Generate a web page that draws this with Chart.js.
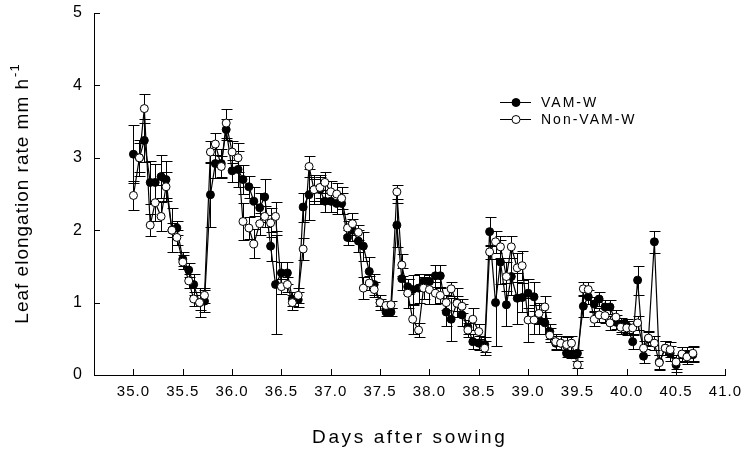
<!DOCTYPE html>
<html>
<head>
<meta charset="utf-8">
<title>Leaf elongation rate</title>
<script src="https://cdn.jsdelivr.net/npm/chart.js@4.4.1/dist/chart.umd.min.js"></script>
<style>
  html, body { margin: 0; padding: 0; background: #fff; }
  canvas { display: block; }
</style>
</head>
<body>
<canvas id="chartPlace" width="748" height="452"></canvas>
<script>
// sampling times (days after sowing), one reading every 80 min
var days = [
  35.00,35.06,35.11,35.17,35.22,35.28,35.33,35.39,35.44,35.50,35.56,35.61,35.67,35.72,35.78,35.83,35.89,35.94,
  36.00,36.06,36.11,36.17,36.22,36.28,36.33,36.39,36.44,36.50,36.56,36.61,36.67,36.72,36.78,36.83,36.89,36.94,
  37.00,37.06,37.11,37.17,37.22,37.28,37.33,37.39,37.44,37.50,37.56,37.61,37.67,37.72,37.78,37.83,37.89,37.94,
  38.00,38.06,38.11,38.17,38.22,38.28,38.33,38.39,38.44,38.50,38.56,38.61,38.67,38.72,38.78,38.83,38.89,38.94,
  39.00,39.06,39.11,39.17,39.22,39.28,39.33,39.39,39.44,39.50,39.56,39.61,39.67,39.72,39.78,39.83,39.89,39.94,
  40.00,40.06,40.11,40.17,40.22,40.28,40.33,40.39,40.44,40.50,40.56,40.61,40.67
];

// VAM-W (filled circles)
var vamW = [
  3.05,3.00,3.24,2.66,2.66,2.74,2.70,2.00,2.03,1.60,1.45,1.25,1.00,1.02,2.49,2.92,2.92,3.39,
  2.82,2.84,2.70,2.60,2.40,2.31,2.46,1.78,1.25,1.41,1.41,1.05,1.04,2.32,2.49,2.56,2.56,2.40,
  2.40,2.37,2.37,1.90,2.00,1.85,1.78,1.43,1.25,1.00,0.87,0.87,2.07,1.33,1.22,1.18,1.20,1.29,
  1.29,1.37,1.37,0.87,0.77,1.00,0.83,0.66,0.46,0.44,0.42,1.98,1.00,1.56,0.97,1.36,1.06,1.07,
  1.13,1.08,0.76,0.72,0.60,0.44,0.44,0.30,0.28,0.30,0.95,1.08,0.98,1.05,0.94,0.94,0.73,0.69,
  0.68,0.46,1.31,0.26,0.50,1.84,0.18,0.37,0.30,0.14,0.28,0.28,0.28
];
var vamErr = [
  0.40,0.25,0.30,0.30,0.25,0.30,0.25,0.30,0.10,0.10,0.10,0.15,0.20,0.15,0.45,0.20,0.20,0.15,
  0.15,0.25,0.20,0.15,0.20,0.20,0.25,0.20,0.68,0.15,0.15,0.10,0.10,0.20,0.35,0.20,0.20,0.15,
  0.15,0.15,0.15,0.10,0.15,0.15,0.20,0.20,0.15,0.10,0.05,0.05,0.30,0.15,0.10,0.20,0.20,0.10,
  0.10,0.15,0.15,0.20,0.30,0.20,0.15,0.10,0.10,0.10,0.10,0.20,0.60,0.30,0.30,0.25,0.35,0.20,
  0.20,0.20,0.20,0.15,0.10,0.10,0.10,0.05,0.05,0.05,0.15,0.10,0.10,0.10,0.10,0.10,0.10,0.10,
  0.10,0.10,0.20,0.10,0.10,0.15,0.10,0.10,0.10,0.10,0.10,0.10,0.10
];

// Non-VAM-W (open circles)
var nonVamW = [
  2.48,3.00,3.68,2.07,2.38,2.19,2.60,2.00,1.90,1.56,1.30,1.05,1.00,1.10,3.08,3.19,2.88,3.48,
  3.08,3.00,2.12,2.03,1.81,2.09,2.19,2.10,2.19,1.22,1.25,1.00,1.10,1.74,2.88,2.56,2.59,2.66,
  2.53,2.50,2.44,2.03,2.09,1.97,1.20,1.27,1.18,1.00,0.96,0.97,2.53,1.52,1.13,0.77,0.62,1.20,
  1.18,1.13,1.10,1.00,1.19,0.99,0.95,0.62,0.77,0.60,0.37,1.70,1.84,1.77,1.36,1.77,1.48,1.51,
  0.76,0.76,0.85,0.94,0.55,0.46,0.44,0.42,0.44,0.14,1.19,1.18,0.77,0.83,0.82,0.72,0.80,0.66,
  0.65,0.65,0.72,0.37,0.51,0.44,0.17,0.37,0.35,0.18,0.29,0.25,0.30
];
var nonVamErr = [
  0.20,0.20,0.20,0.15,0.25,0.20,0.20,0.10,0.10,0.10,0.10,0.10,0.10,0.10,0.15,0.15,0.15,0.20,
  0.15,0.20,0.25,0.15,0.20,0.15,0.15,0.20,0.20,0.10,0.10,0.10,0.10,0.15,0.15,0.15,0.15,0.15,
  0.15,0.15,0.15,0.10,0.15,0.10,0.15,0.10,0.10,0.05,0.05,0.05,0.10,0.15,0.20,0.20,0.10,0.15,
  0.20,0.15,0.10,0.10,0.10,0.10,0.10,0.10,0.15,0.10,0.10,0.10,0.15,0.15,0.20,0.15,0.20,0.20,
  0.30,0.20,0.15,0.15,0.10,0.10,0.10,0.10,0.10,0.05,0.10,0.10,0.10,0.10,0.10,0.10,0.10,0.10,
  0.10,0.10,0.10,0.10,0.10,0.10,0.10,0.10,0.10,0.10,0.10,0.10,0.10
];

var seriesNames = ["VAM-W", "Non-VAM-W"];
var xTitle = "Days after sowing";
var yTitle = "Leaf elongation rate mm h";
var yTitleSup = "-1";

function toPoints(arr) {
  var pts = [];
  for (var i = 0; i < days.length; i++) {
    pts.push({x: days[i], y: arr[i]});
  }
  return pts;
}

/* error bars, drawn under the markers */
const errorBars = {
  id: 'errorBars',
  beforeDatasetsDraw(chart) {
    const ctx = chart.ctx;
    const xs = chart.scales.x, ys = chart.scales.y;
    ctx.save();
    ctx.strokeStyle = '#000';
    ctx.lineWidth = 1;
    chart.data.datasets.forEach(function (ds) {
      ds.data.forEach(function (p, i) {
        var e = ds.errors[i];
        var px = Math.round(xs.getPixelForValue(p.x)) + 0.5;
        var top = Math.round(ys.getPixelForValue(p.y + e)) + 0.5;
        var bot = Math.round(ys.getPixelForValue(Math.max(0, p.y - e))) + 0.5;
        ctx.beginPath();
        ctx.moveTo(px, top); ctx.lineTo(px, bot);
        ctx.moveTo(px - 5, top); ctx.lineTo(px + 6, top);
        ctx.moveTo(px - 5, bot); ctx.lineTo(px + 6, bot);
        ctx.stroke();
      });
    });
    ctx.restore();
  }
};

/* inward ticks, axis titles and the legend box */
const decorations = {
  id: 'decorations',
  beforeDraw(chart) {
    chart.ctx.letterSpacing = '1px';
  },
  afterDraw(chart) {
    const ctx = chart.ctx;
    const xs = chart.scales.x, ys = chart.scales.y;
    const area = chart.chartArea;
    ctx.save();
    ctx.strokeStyle = '#000';
    ctx.lineWidth = 1;
    ctx.beginPath();
    xs.ticks.forEach(function (t) {
      var px = Math.round(xs.getPixelForValue(t.value)) + 0.5;
      ctx.moveTo(px, area.bottom); ctx.lineTo(px, area.bottom - 6);
    });
    ys.ticks.forEach(function (t) {
      var py = Math.round(ys.getPixelForValue(t.value)) + 0.5;
      ctx.moveTo(area.left, py); ctx.lineTo(area.left + 6, py);
    });
    ctx.stroke();

    ctx.fillStyle = '#000';
    // x title
    ctx.letterSpacing = '2.6px';
    ctx.font = '19px "Liberation Sans", Arial, sans-serif';
    ctx.textAlign = 'center';
    ctx.textBaseline = 'middle';
    ctx.fillText(xTitle, (area.left + area.right) / 2, 438);

    // y title with superscript
    ctx.letterSpacing = '1px';
    ctx.translate(23, (area.top + area.bottom) / 2);
    ctx.rotate(-Math.PI / 2);
    ctx.font = '19px "Liberation Sans", Arial, sans-serif';
    var w1 = ctx.measureText(yTitle).width;
    ctx.font = '13px "Liberation Sans", Arial, sans-serif';
    var w2 = ctx.measureText(yTitleSup).width;
    var start = -(w1 + w2) / 2;
    ctx.textAlign = 'left';
    ctx.font = '19px "Liberation Sans", Arial, sans-serif';
    ctx.fillText(yTitle, start, 0);
    ctx.font = '13px "Liberation Sans", Arial, sans-serif';
    ctx.fillText(yTitleSup, start + w1 + 1, -8);
    ctx.setTransform(1, 0, 0, 1, 0, 0);

    // legend
    ctx.letterSpacing = '2px';
    ctx.font = '14px "Liberation Sans", Arial, sans-serif';
    ctx.textAlign = 'left';
    ctx.textBaseline = 'middle';
    var rows = [102, 119];
    var fills = ['#000', '#fff'];
    for (var r = 0; r < 2; r++) {
      ctx.beginPath();
      ctx.moveTo(500, rows[r] + 0.5); ctx.lineTo(531, rows[r] + 0.5);
      ctx.stroke();
      ctx.beginPath();
      ctx.arc(516, rows[r] + 0.5, 4, 0, Math.PI * 2);
      ctx.fillStyle = fills[r];
      ctx.fill();
      ctx.stroke();
      ctx.fillStyle = '#000';
      ctx.fillText(seriesNames[r], 541, rows[r] + 1);
    }
    ctx.restore();
  }
};

var chartPlace = document.getElementById('chartPlace').getContext('2d');
var chartLer = new Chart(chartPlace, {
  type: 'line',
  data: {
    datasets: [
      {
        label: seriesNames[1],
        data: toPoints(nonVamW),
        errors: nonVamErr,
        borderColor: '#000',
        borderWidth: 1.2,
        pointRadius: 4,
        pointBorderWidth: 1,
        pointBorderColor: '#000',
        pointBackgroundColor: '#fff',
        tension: 0
      },
      {
        label: seriesNames[0],
        data: toPoints(vamW),
        errors: vamErr,
        borderColor: '#000',
        borderWidth: 1.2,
        pointRadius: 4,
        pointBorderWidth: 1,
        pointBorderColor: '#000',
        pointBackgroundColor: '#000',
        tension: 0
      }
    ]
  },
  options: {
    responsive: false,
    animation: false,
    devicePixelRatio: 1,
    layout: { padding: { top: 13, right: 15, left: 0, bottom: 0 } },
    plugins: {
      legend: { display: false },
      tooltip: { enabled: false }
    },
    scales: {
      x: {
        type: 'linear',
        min: 34.6,
        max: 41.0,
        grid: { drawOnChartArea: false, drawTicks: false },
        border: { display: true, color: '#000', width: 1 },
        ticks: {
          stepSize: 0.5,
          includeBounds: false,
          padding: 8,
          color: '#000',
          font: { family: '"Liberation Sans", Arial, sans-serif', size: 15 },
          maxRotation: 0,
          autoSkip: false,
          callback: function (v) { return Number(v).toFixed(1); }
        },
        afterFit: function (scale) { scale.height = 77; }
      },
      y: {
        min: 0,
        max: 5,
        grid: { drawOnChartArea: false, drawTicks: false },
        border: { display: true, color: '#000', width: 1 },
        ticks: {
          stepSize: 1,
          padding: 11,
          color: '#000',
          font: { family: '"Liberation Sans", Arial, sans-serif', size: 16 }
        },
        afterFit: function (scale) {
          scale.width = 94;
          scale.paddingTop = 0;
          scale.paddingBottom = 0;
        }
      }
    }
  },
  plugins: [errorBars, decorations]
});
</script>
</body>
</html>
